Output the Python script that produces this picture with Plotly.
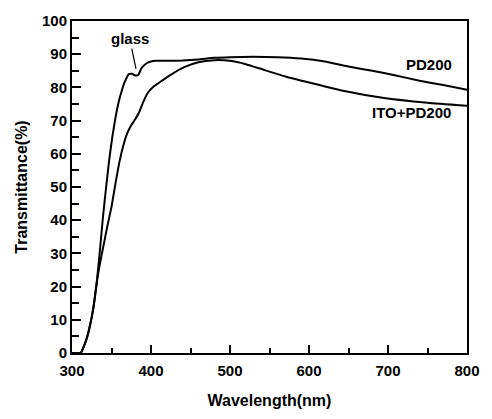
import plotly.graph_objects as go

# Transmittance spectra (wavelength in nm, transmittance in %)
wl_pd200 = [300, 311, 315, 319, 323, 327, 331, 335, 339, 343, 347, 351, 355, 359,
            363, 367, 372, 376, 380, 384, 388, 394, 400, 406, 420, 440, 460, 480,
            500, 530, 560, 590, 620, 650, 680, 710, 740, 770, 800]
t_pd200 = [0, 0, 2.0, 4.5, 8.5, 13.5, 20.7, 30.0, 40.5, 49.5, 58.0, 65.0, 70.8, 75.5,
           79.0, 81.8, 84.0, 84.1, 83.6, 83.8, 85.8, 87.2, 87.8, 88.0, 88.0, 88.1, 88.4, 88.9,
           89.1, 89.2, 89.1, 88.7, 87.8, 86.3, 85.0, 83.6, 82.0, 80.7, 79.3]

wl_ito = [300, 311, 315, 319, 323, 327, 331, 335, 340, 345, 350, 355, 360, 365, 370,
          375, 380, 385, 390, 396, 402, 412, 425, 442, 460, 480, 500, 520, 544, 570,
          600, 643, 693, 750, 800]
t_ito = [0, 0, 2.0, 4.8, 8.5, 13.5, 20.7, 26.5, 32.5, 38.5, 44.0, 51.0, 57.5, 62.5, 66.2,
         68.6, 70.4, 72.5, 75.5, 78.4, 80.0, 81.7, 83.8, 86.1, 87.6, 88.2, 88.0, 87.0, 85.2, 83.3,
         81.5, 79.0, 76.9, 75.4, 74.5]

x_ticks = [300, 400, 500, 600, 700, 800]
y_ticks = list(range(0, 101, 10))

FONT = "Liberation Sans, Arial, sans-serif"

fig = go.Figure()
for wl, t, name in [(wl_pd200, t_pd200, "PD200"), (wl_ito, t_ito, "ITO+PD200")]:
    fig.add_trace(go.Scatter(
        x=wl, y=t, mode="lines", name=name,
        line=dict(color="black", width=2, shape="spline", smoothing=0.4),
        showlegend=False,
    ))

axis_common = dict(
    showline=True, linecolor="black", linewidth=2, mirror=True,
    showgrid=False, zeroline=False,
    ticks="inside", tickcolor="black", tickwidth=1.5,
    tickfont=dict(family=FONT, size=15, color="black", weight="bold"),
)

fig.update_xaxes(
    range=[300, 800], tickvals=x_ticks, ticklen=8, ticklabelstandoff=3,
    minor=dict(dtick=50, ticks="inside", ticklen=5, tickcolor="black", tickwidth=1.5),
    title=dict(text="Wavelength(nm)", font=dict(family=FONT, size=16, color="black", weight="bold"),
               standoff=17),
    **axis_common,
)
fig.update_yaxes(
    range=[0, 100], tickvals=y_ticks, ticklen=9,
    minor=dict(dtick=5, ticks="inside", ticklen=7, tickcolor="black", tickwidth=1.5),
    title=dict(text="Transmittance(%)", font=dict(family=FONT, size=16, color="black", weight="bold"),
               standoff=10),
    **axis_common,
)

label_font = dict(family=FONT, size=15, color="black", weight="bold")
fig.add_annotation(x=381, y=85.6, ax=373, ay=94.7, axref="x", ayref="y",
                   text="glass", showarrow=True, arrowhead=0, arrowwidth=1.2,
                   arrowcolor="black", standoff=0, font=label_font)
fig.add_annotation(x=783, y=87.0, text="PD200", showarrow=False,
                   xanchor="right", yanchor="middle", font=label_font)
fig.add_annotation(x=782, y=72.3, text="ITO+PD200", showarrow=False,
                   xanchor="right", yanchor="middle", font=label_font)

fig.update_layout(
    width=492, height=419,
    margin=dict(l=72, r=15, t=15, b=66),
    paper_bgcolor="white", plot_bgcolor="white",
)

fig.write_html("out.html")
